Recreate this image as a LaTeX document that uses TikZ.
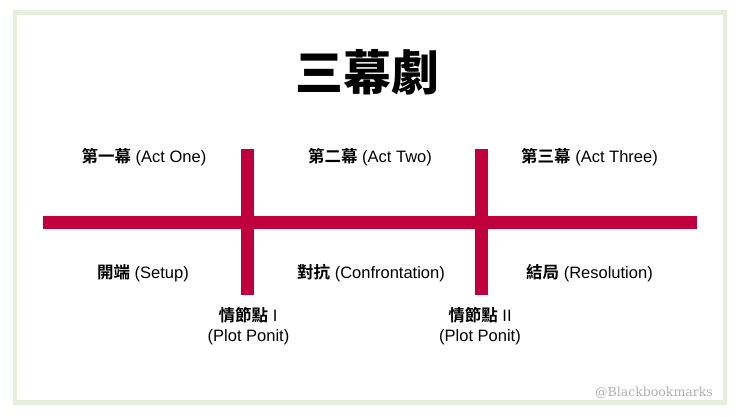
\documentclass[tikz,border=0pt]{standalone}
\usepackage{fontspec}
\setmainfont{Liberation Sans}
\newfontfamily\cjkb{Noto Sans CJK TC Bold}
\newfontfamily\cjkh{Noto Sans CJK TC Black}
\newfontfamily\wmfont{DejaVu Serif}
\definecolor{barred}{RGB}{192,0,62}
\definecolor{framegreen}{RGB}{229,239,218}
\definecolor{wmgray}{RGB}{175,175,175}
\begin{document}
\begin{tikzpicture}[x=1pt,y=-1pt,
  bar/.style={line width=13pt,barred},
  lbl/.style={inner sep=0pt,font=\fontsize{16.5}{20}\selectfont,text=black},
]
\useasboundingbox[fill=white] (0,0) rectangle (740,416);
\draw[framegreen,line width=4.5pt] (15,12.5) rectangle (725,402.5);
\node[inner sep=0pt,font=\cjkh\fontsize{48}{56}\selectfont] (title) at (367,72) {三幕劇};
% bars
\coordinate (hL) at (43.3,222.3);
\coordinate (hR) at (696.7,222.3);
\coordinate (v1T) at (247.3,149);
\coordinate (v1B) at (247.3,295);
\coordinate (v2T) at (481.7,149);
\coordinate (v2B) at (481.7,295);
\draw[bar] (hL) -- (hR);
\draw[bar] (v1T) -- (v1B);
\draw[bar] (v2T) -- (v2B);
% labels
\node[lbl] (act1) at (144,157) {{\cjkb 第一幕} (Act One)};
\node[lbl] (act2) at (370,157) {{\cjkb 第二幕} (Act Two)};
\node[lbl] (act3) at (589.5,157) {{\cjkb 第三幕} (Act Three)};
\node[lbl] (setup) at (143,273) {{\cjkb 開端} (Setup)};
\node[lbl] (conf) at (371,273) {{\cjkb 對抗} (Confrontation)};
\node[lbl] (reso) at (589.5,273) {{\cjkb 結局} (Resolution)};
\node[lbl] (pp1) at (248,315) {{\cjkb 情節點} I};
\node[lbl] (pp1b) at (248.5,337) {(Plot Ponit)};
\node[lbl] (pp2) at (480,315) {{\cjkb 情節點} II};
\node[lbl] (pp2b) at (480,337) {(Plot Ponit)};
\node[inner sep=0pt,font=\wmfont\fontsize{12.5}{15}\selectfont,text=wmgray] (wm) at (654,393) {@Blackbookmarks};
\end{tikzpicture}
\end{document}
